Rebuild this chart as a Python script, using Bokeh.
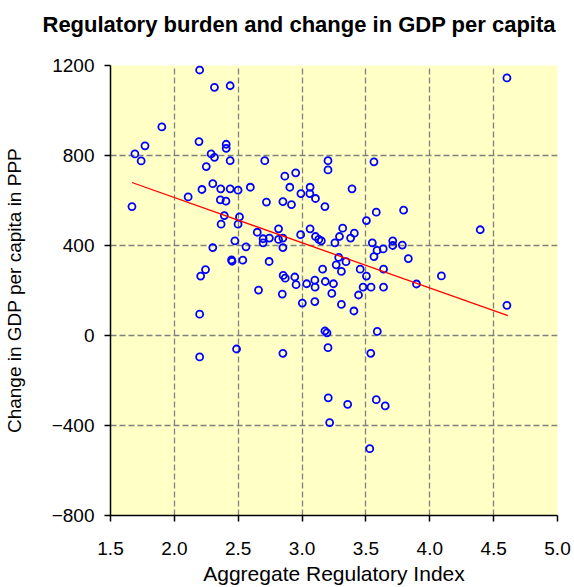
from bokeh.plotting import figure
from bokeh.models import Range1d, FixedTicker, ColumnDataSource, Title
from bokeh.embed import file_html
from bokeh.resources import INLINE

# Aggregate Regulatory Index (x) and change in GDP per capita in PPP (y)
reg_index = [
    2.198, 2.314, 2.437, 1.902, 2.193, 1.770, 2.406, 2.406, 1.691, 2.288,
    2.314, 1.740, 2.437, 2.250, 2.301, 2.216, 2.363, 2.437, 2.499, 2.595,
    2.108, 2.360, 2.404, 1.668, 2.391, 2.510, 2.366, 2.499, 2.474, 2.301,
    2.561, 2.448, 2.452, 2.536, 2.244, 2.206, 2.198, 2.487, 2.198,
    2.708, 3.203, 3.203, 3.563, 2.950, 2.865, 2.904, 3.063, 2.991, 3.061,
    3.105, 3.391, 2.721, 2.850, 2.917, 3.179, 3.581, 3.795,
    3.504, 2.649, 2.816, 2.695, 2.695, 2.744, 2.816, 2.850, 2.850, 2.989,
    3.063, 3.105, 3.131, 3.151, 3.318, 3.293, 3.409, 3.380, 3.257, 3.550,
    3.710, 3.710, 3.635, 3.587, 3.785, 3.563, 3.832, 3.287, 3.267, 3.344,
    2.742, 3.161, 3.308, 3.455, 3.638, 3.504, 2.852, 2.868, 2.943, 2.953,
    3.100, 3.102, 3.036, 3.182, 3.246, 3.478, 3.540, 3.638, 2.659, 2.845,
    3.233, 3.442, 3.002, 3.100, 3.308, 3.406, 3.179, 3.195, 3.589, 2.850,
    3.203, 3.538, 3.205, 3.357, 3.581, 3.651, 3.216, 3.530,
    4.395, 4.091, 3.896, 4.604, 4.604,
]
gdp_change = [
    1180, 1103, 1110, 927, 862, 843, 850, 832, 807, 807,
    792, 776, 777, 751, 675, 649, 652, 652, 646, 659,
    616, 603, 597, 573, 533, 527, 495, 495, 421, 391,
    394, 336, 330, 335, 293, 264, 95, -60, -95,
    777, 777, 736, 772, 723, 708, 659, 659, 631, 631,
    609, 652, 593, 595, 582, 573, 548, 557,
    511, 459, 474, 430, 412, 433, 427, 433, 391, 448,
    474, 440, 427, 421, 477, 440, 455, 433, 412, 412,
    421, 400, 385, 378, 402, 351, 342, 347, 314, 328,
    329, 295, 285, 295, 295, 264, 267, 255, 260, 226,
    246, 215, 230, 240, 230, 215, 215, 215, 202, 184,
    187, 180, 144, 151, 138, 109, 20, 12, 18, -79,
    -54, -79, -277, -306, -285, -313, -387, -503,
    470, 265, 229, 134, 1145,
]

# fitted regression line end points
trend_x = [1.668, 4.612]
trend_y = [680, 88]

x_ticks = [1.5, 2.0, 2.5, 3.0, 3.5, 4.0, 4.5, 5.0]
y_ticks = [-800, -400, 0, 400, 800, 1200]

TITLE = "Regulatory burden and change in GDP per capita"
FONT = "Liberation Sans"

p = figure(
    width=574, height=587,
    output_backend="svg", toolbar_location=None,
    x_range=Range1d(1.5, 5.0), y_range=Range1d(-800, 1200),
    min_border_left=104, min_border_right=17, min_border_top=65, min_border_bottom=71,
    background_fill_color="#FFFFC6", border_fill_color="white",
    outline_line_color=None,
)

p.title.text = TITLE
p.title.text_font = FONT
p.title.text_font_size = "22px"
p.title.text_font_style = "bold"
p.title.text_color = "black"
p.title.align = "left"
p.title.offset = -68
p.title.standoff = 0

# spacing between the title and the plot area
p.add_layout(Title(text=" ", text_font_size="1px", standoff=26), "above")

src = ColumnDataSource(dict(x=reg_index, y=gdp_change))
p.scatter("x", "y", source=src, size=7, marker="circle",
          fill_color=None, line_color="#0000FF", line_width=1.8)
p.line(trend_x, trend_y, line_color="#FF0000", line_width=1.3)

for ax in (p.xaxis[0], p.yaxis[0]):
    ax.axis_line_color = "black"
    ax.axis_line_width = 1.5
    ax.major_tick_line_color = "black"
    ax.major_tick_line_width = 1.5
    ax.major_tick_in = 0
    ax.major_tick_out = 6
    ax.minor_tick_line_color = None
    ax.major_label_text_font = FONT
    ax.major_label_text_font_size = "19px"
    ax.major_label_text_color = "black"
    ax.axis_label_text_font = FONT
    ax.axis_label_text_font_style = "normal"
    ax.axis_label_text_color = "black"

p.xaxis[0].ticker = FixedTicker(ticks=x_ticks)
p.yaxis[0].ticker = FixedTicker(ticks=y_ticks)
p.xaxis[0].major_label_overrides = {v: f"{v:.1f}" for v in x_ticks}
p.xaxis.axis_label = "Aggregate Regulatory Index"
p.yaxis.axis_label = "Change in GDP per capita in PPP"
p.xaxis.axis_label_text_font_size = "21px"
p.yaxis.axis_label_text_font_size = "19px"
p.xaxis.major_label_standoff = 20
p.yaxis.major_label_standoff = 10
p.xaxis.axis_label_standoff = 4
p.yaxis.axis_label_standoff = 24

p.grid.grid_line_color = "#808080"
p.grid.grid_line_dash = "6 3"
p.grid.grid_line_width = 1.3

open("out.html", "w").write(file_html(p, INLINE))
